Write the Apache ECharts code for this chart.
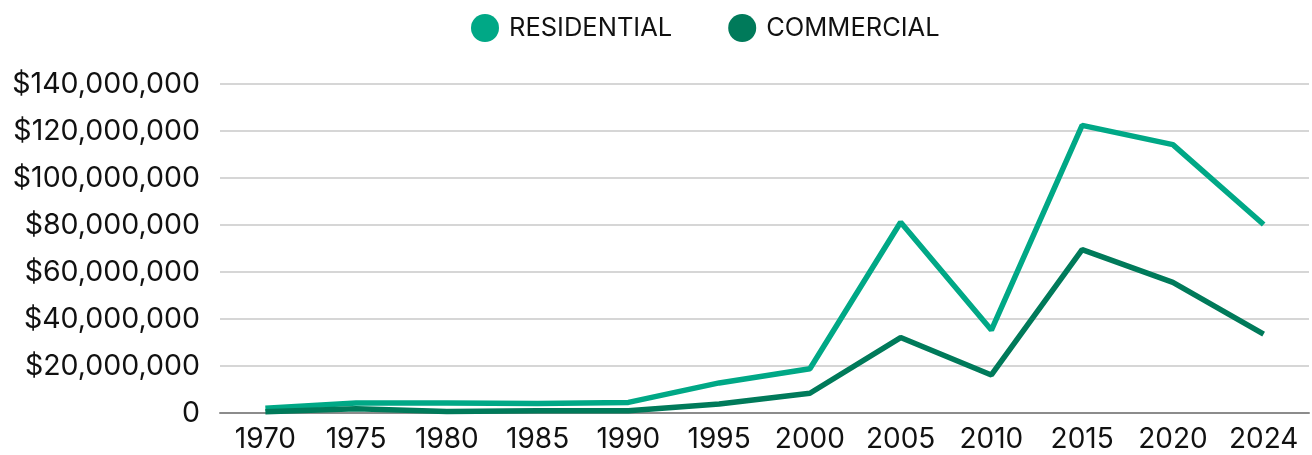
<!DOCTYPE html>
<html>
<head>
<meta charset="utf-8">
<script src="https://cdn.jsdelivr.net/npm/echarts@6/dist/echarts.min.js"></script>
<style>
html,body{margin:0;padding:0;background:#fff;}
#chart{width:1312px;height:455px;}
</style>
</head>
<body>
<div id="chart"></div>
<script>
const years = ['1970','1975','1980','1985','1990','1995','2000','2005','2010','2015','2020','2024'];
const residential = [2000000, 4300000, 4300000, 4000000, 4500000, 12800000, 18800000, 81200000, 35300000, 122400000, 114200000, 80200000];
const commercial = [500000, 1800000, 600000, 1000000, 1000000, 3800000, 8400000, 32100000, 16200000, 69500000, 55600000, 33600000];
const seriesNames = ['RESIDENTIAL', 'COMMERCIAL'];
const yTicks = {min: 0, max: 140000000, interval: 20000000};

const FONT = 'Inter';
const chart = echarts.init(document.getElementById('chart'));
chart.setOption({
  animation: false,
  textStyle: {fontFamily: FONT},
  legend: {
    top: 9,
    left: 466,
    icon: 'circle',
    itemWidth: 28,
    itemHeight: 28,
    itemGap: 56,
    textStyle: {fontFamily: FONT, fontSize: 25.5, color: '#111', padding: [0, 0, 0, 5]},
    data: seriesNames
  },
  grid: {left: 220, right: 3, top: 84, bottom: 42, containLabel: false},
  xAxis: {
    type: 'category',
    data: years,
    boundaryGap: true,
    axisLine: {lineStyle: {color: '#8c8c8c', width: 2}},
    axisTick: {show: false},
    axisLabel: {fontFamily: FONT, fontSize: 28, color: '#111', margin: 13, interval: 0, hideOverlap: false}
  },
  yAxis: {
    type: 'value',
    min: yTicks.min,
    max: yTicks.max,
    interval: yTicks.interval,
    axisLine: {show: false},
    axisTick: {show: false},
    splitLine: {lineStyle: {color: '#c8c8c8', width: 1.5}},
    axisLabel: {
      fontFamily: FONT, fontSize: 28.5, color: '#111', margin: 20,
      formatter: v => v === 0 ? '0' : '$' + v.toLocaleString('en-US')
    }
  },
  series: [
    {name: seriesNames[0], type: 'line', data: residential, showSymbol: false, symbol: 'none',
     lineStyle: {width: 5.5, color: '#00A886'}, itemStyle: {color: '#00A886'}},
    {name: seriesNames[1], type: 'line', data: commercial, showSymbol: false, symbol: 'none',
     lineStyle: {width: 5.5, color: '#007A5A'}, itemStyle: {color: '#007A5A'}}
  ]
});
</script>
</body>
</html>
